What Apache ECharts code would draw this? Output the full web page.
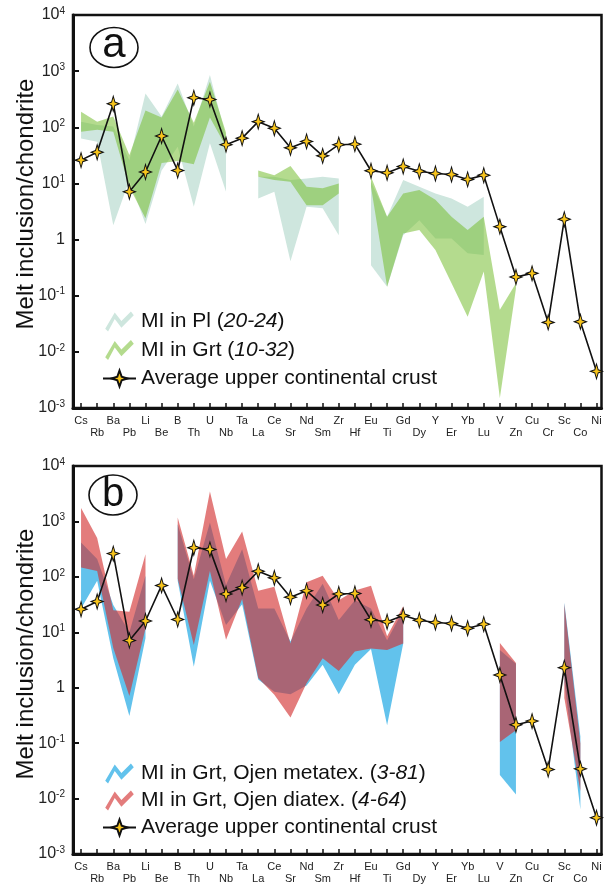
<!DOCTYPE html>
<html><head><meta charset="utf-8">
<script src="https://cdn.jsdelivr.net/npm/echarts@6/dist/echarts.min.js"></script>
<style>html,body{margin:0;padding:0;background:#fff}#c{width:605px;height:885px}</style>
</head><body><div id="c"></div><script>
const elements = ['Cs','Rb','Ba','Pb','Li','Be','B','Th','U','Nb','Ta','La','Ce','Sr','Nd','Sm','Zr','Hf','Eu','Ti','Gd','Dy','Y','Er','Yb','Lu','V','Zn','Cu','Cr','Sc','Co','Ni'];
const yTicks = [0.001, 0.01, 0.1, 1, 10, 100, 1000, 10000];
// Average upper continental crust / chondrite
const ucc = [26, 36, 263, 7.1, 16, 70, 17, 335, 313, 49, 64, 126, 96, 43, 56, 31, 49, 50, 16.8, 15.5, 20, 16.5, 15, 14.4, 11.8, 14, 1.7, 0.215, 0.25, 0.0335, 2.3, 0.0344, 0.0045];
// Panel a: MI in Pl (min/max)
const plUpper = [126, 110, 103, 26, 400, 155, 600, 103, 850, 68, null, 13.2, 13.2, 11.5, 12.3, 13.2, 12.3, null, 10.7, 2.55, 11.5, 8.7, 6.6, 5.4, 3.85, 5.8, null, null, null, null, null, null, null];
const plLower = [63, 55, 1.8, 11.5, 1.9, 17, 45, 3.85, 52, 7.1, null, 5.4, 7.1, 0.41, 3.85, 3.6, 1.2, null, 0.35, 0.145, 1.2, 2.2, 1.05, 1.05, 0.57, 0.53, null, null, null, null, null, null, null];
// Panel a: MI in Grt
const grtUpper = [190, 126, 155, 32, 200, 150, 470, 120, 650, 80, null, 17, 14, 20.5, 8.7, 8.2, 10, null, 13.2, 2.55, 6.6, 7.6, 5.1, 2.55, 1.48, 2.55, 0.056, 0.166, null, null, null, null, null];
const grtLower = [83, 90, 83, 8.6, 2.4, 23, 25, 22, 150, 45, null, 13.2, 11.5, 10.7, 4.1, 4.1, 6.6, null, 8.7, 0.145, 1.28, 1.48, 0.65, 0.166, 0.042, 0.27, 0.0015, 0.135, null, null, null, null, null];
// Panel b: MI in Grt, Ojen metatexite
const metUpper = [415, 210, 31, 10, 105, null, 890, 91, 960, 71, 316, 27, 27, 6.8, 27, 75, 16.6, 38, 27, 7.2, 25, null, null, null, null, null, 4.8, 2.7, null, null, 35, 0.13, null];
const metLower = [27, 85, 3.4, 0.31, 7.8, null, 85, 2.4, 85, 13.5, 32, 1.4, 0.85, 0.76, 1.1, 2.6, 0.76, 2.6, 5.0, 0.21, 6.3, null, null, null, null, null, 0.0265, 0.0118, null, null, 1.3, 0.0063, null];
// Panel b: MI in Grt, Ojen diatexite
const diaUpper = [1750, 500, 25, 23.5, 257, null, 1180, 105, 3470, 210, 660, 56, 66, 6.3, 80, 105, 38, 57, 69, 8.5, 29.5, null, null, null, null, null, 6.4, 2.8, null, null, 33, 0.098, null];
const diaLower = [148, 128, 5.2, 0.71, 11.8, null, 92, 5.9, 128, 7.3, 40, 1.5, 0.75, 0.29, 1.2, 3.4, 2.0, 4.5, 5.1, 4.8, 6.3, null, null, null, null, null, 0.105, 0.17, null, null, 0.66, 0.0135, null];

const FONT = 'Liberation Sans, Arial, sans-serif';
const starPath = 'path://M0,-10 L2.2,-2.2 L8,0 L2.2,2.2 L0,10 L-2.2,2.2 L-8,0 L-2.2,-2.2 Z';
const zigPath = 'path://M0,20 L10,3 L17,12 L27,2 L30,6 L17,19 L10,10 L3,23 Z';
const UCC = 'Average upper continental crust';

function band(name, upper, lower, color, idx, z) {
  const segs = [];
  let cur = null;
  upper.forEach((u, i) => {
    if (u != null && lower[i] != null) { if (!cur) { cur = []; segs.push(cur); } cur.push(i); }
    else cur = null;
  });
  return {
    type: 'custom', name: name, xAxisIndex: idx, yAxisIndex: idx, z: z,
    itemStyle: { color: color },
    data: segs.map((s, k) => [k]),
    encode: { x: 0 },
    silent: true,
    renderItem: function (params, api) {
      const s = segs[params.dataIndex];
      const pts = s.map(i => api.coord([i, upper[i]]))
        .concat(s.slice().reverse().map(i => api.coord([i, lower[i]])));
      return { type: 'polygon', shape: { points: pts }, style: { fill: color } };
    }
  };
}
function uccSeries(idx) {
  return {
    type: 'line', name: UCC, xAxisIndex: idx, yAxisIndex: idx, z: 10,
    data: ucc.map((v, i) => [i, v]),
    symbol: starPath, symbolSize: [12, 15],
    itemStyle: { color: '#f8c51c', borderColor: '#111', borderWidth: 1 },
    lineStyle: { color: '#111', width: 1.6 },
    silent: true
  };
}
function xAxis(idx) {
  return {
    type: 'value', gridIndex: idx, min: -0.5, max: 32.31,
    splitLine: { show: false },
    axisLine: { onZero: false, lineStyle: { color: '#111', width: 3 } },
    axisTick: { inside: true, length: 5, lineStyle: { color: '#111', width: 1.5 }, customValues: elements.map((e, i) => i) },
    axisLabel: {
      customValues: elements.map((e, i) => i), margin: 7, fontFamily: FONT, fontSize: 11, color: '#222', lineHeight: 12,
      formatter: v => { const i = Math.round(v); return i % 2 === 0 ? elements[i] : '\n' + elements[i]; }
    }
  };
}
function yAxis(idx) {
  return {
    type: 'log', logBase: 10, gridIndex: idx, min: yTicks[0], max: yTicks[yTicks.length - 1],
    splitLine: { show: false },
    axisLine: { onZero: false, lineStyle: { color: '#111', width: 3 } },
    axisTick: { inside: true, length: 6, lineStyle: { color: '#111', width: 2 } },
    axisLabel: {
      margin: 8, fontFamily: FONT, color: '#222',
      formatter: v => { const e = Math.round(Math.log10(v)); return e === 0 ? '{b|1}' : '{b|10}{s|' + e + '}'; },
      rich: { b: { fontSize: 16, fontFamily: FONT, color: '#222' }, s: { fontSize: 10, fontFamily: FONT, color: '#222', verticalAlign: 'top', padding: [0, 0, 8, 0] } }
    }
  };
}
const legendText = {
  fontFamily: FONT, fontSize: 21, color: '#111',
  rich: { n: { fontFamily: FONT, fontSize: 21, color: '#111' }, i: { fontFamily: FONT, fontSize: 21, color: '#111', fontStyle: 'italic' } }
};
function fmtLegend(name) {
  const m = name.match(/^(.*)\((.*)\)$/);
  if (m) return '{n|' + m[1] + '(}{i|' + m[2] + '}{n|)}';
  return '{n|' + name + '}';
}

const option = {
  animation: false,
  backgroundColor: '#fff',
  grid: [
    { left: 73, right: 3.5, top: 15, height: 393, show: true, borderColor: '#111', borderWidth: 2.5 },
    { left: 73, right: 3.5, top: 466, height: 392, show: true, borderColor: '#111', borderWidth: 2.5 }
  ],
  xAxis: [xAxis(0), xAxis(1)],
  yAxis: [yAxis(0), yAxis(1)],
  legend: [
    { orient: 'vertical', left: 97, top: 306, itemWidth: 33, itemHeight: 20, itemGap: 7.5, textStyle: legendText, formatter: fmtLegend, selectedMode: false,
      data: [{ name: 'MI in Pl (20-24)', icon: zigPath }, { name: 'MI in Grt (10-32)', icon: zigPath }, { name: UCC }] },
    { orient: 'vertical', left: 97, top: 758, itemWidth: 33, itemHeight: 20, itemGap: 6, textStyle: legendText, formatter: fmtLegend, selectedMode: false,
      data: [{ name: 'MI in Grt, Ojen metatex. (3-81)', icon: zigPath }, { name: 'MI in Grt, Ojen diatex. (4-64)', icon: zigPath }, { name: UCC }] }
  ],
  graphic: [
    { type: 'text', x: 26, y: 204, rotation: Math.PI / 2, style: { text: 'Melt inclusion/chondrite', font: '24px ' + FONT, fill: '#111', align: 'center', verticalAlign: 'middle' } },
    { type: 'text', x: 26, y: 654, rotation: Math.PI / 2, style: { text: 'Melt inclusion/chondrite', font: '24px ' + FONT, fill: '#111', align: 'center', verticalAlign: 'middle' } },
    { type: 'ellipse', shape: { cx: 114, cy: 47.5, rx: 24, ry: 20 }, style: { fill: '#fff', stroke: '#111', lineWidth: 1.6 }, z: 20 },
    { type: 'text', x: 114, y: 45, style: { text: 'a', font: '42px ' + FONT, fill: '#111', align: 'center', verticalAlign: 'middle' }, z: 21 },
    { type: 'ellipse', shape: { cx: 113, cy: 495, rx: 24, ry: 20 }, style: { fill: '#fff', stroke: '#111', lineWidth: 1.6 }, z: 20 },
    { type: 'text', x: 113, y: 495, style: { text: 'b', font: '40px ' + FONT, fill: '#111', align: 'center', verticalAlign: 'middle' }, z: 21 }
  ],
  series: [
    band('MI in Pl (20-24)', plUpper, plLower, 'rgb(206,230,222)', 0, 2),
    band('MI in Grt (10-32)', grtUpper, grtLower, 'rgba(118,190,50,0.55)', 0, 3),
    uccSeries(0),
    band('MI in Grt, Ojen metatex. (3-81)', metUpper, metLower, 'rgb(98,194,236)', 1, 2),
    band('MI in Grt, Ojen diatex. (4-64)', diaUpper, diaLower, 'rgba(211,48,48,0.63)', 1, 3),
    uccSeries(1)
  ]
};
const chart = echarts.init(document.getElementById('c'), null, { renderer: 'canvas' });
chart.setOption(option);
</script></body></html>
